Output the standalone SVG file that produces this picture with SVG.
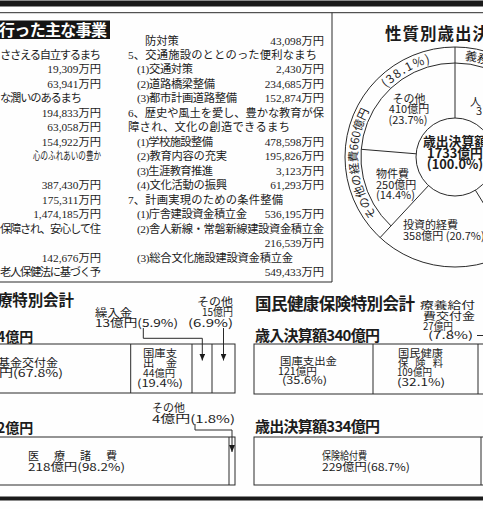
<svg xmlns="http://www.w3.org/2000/svg" width="483" height="509" viewBox="0 0 483 509">
<style>
.t{font-family:"Noto Sans CJK JP","Noto Sans",sans-serif;fill:#1c1c1c}
.s{font-size:11px}
.xs{font-size:10.3px}
.l{font-family:"Liberation Serif","Noto Sans CJK JP",serif;font-size:11.3px;fill:#1c1c1c}
.n{text-anchor:end}
.b{font-weight:bold}
.c{text-anchor:middle}
.ln{fill:none;stroke:#2a2a2a;stroke-width:1}
.bar{fill:#1a1a1a}
</style>
<defs>
<marker id="ah" viewBox="0 0 7 6" refX="7" refY="3" markerWidth="7" markerHeight="6" markerUnits="userSpaceOnUse" orient="auto">
<path d="M0,0 L7,3 L0,6 z" fill="#1a1a1a"/>
</marker>
<path id="ringL" d="M386.1,225.9 A97.5,97.5 0 0 1 451.6,59.6" fill="none"/>
<path id="ringR" d="M458.4,59.6 A97.5,97.5 0 0 1 529.7,94.3" fill="none"/>
</defs>
<rect x="0" y="0" width="483" height="509" fill="#fefefe"/>

<g id="frame">
<rect class="bar" x="0" y="0.5" width="483" height="6"/>
<line class="ln" x1="0" y1="12.7" x2="483" y2="12.7"/>
<path class="ln" d="M332,12.7 V282 H0"/>
<rect class="bar" x="0" y="496.5" width="483" height="4"/>
</g>

<g id="jigyo">
<rect x="-2" y="20.5" width="112" height="18.5" fill="#151515"/>
<text class="t b" x="-1" y="35.5" style="font-size:16px;fill:#fff" textLength="108">行った主な事業</text>
<text class="l" x="0" y="59.0" textLength="101">ささえる自立するまち</text>
<text class="l n" x="101" y="73.4">19,309万円</text>
<text class="l n" x="101" y="87.9">63,941万円</text>
<text class="l" x="0" y="102.4" textLength="82">な潤いのあるまち</text>
<text class="l n" x="101" y="116.9">194,833万円</text>
<text class="l n" x="101" y="131.3">63,058万円</text>
<text class="l n" x="101" y="145.8">154,922万円</text>
<text class="l" x="33" y="160.3" textLength="68" lengthAdjust="spacingAndGlyphs">心のふれあいの豊か</text>
<text class="l n" x="101" y="189.2">387,430万円</text>
<text class="l n" x="101" y="203.7">175,311万円</text>
<text class="l n" x="101" y="218.1">1,474,185万円</text>
<text class="l" x="0" y="232.6" textLength="101">保障され、安心して住</text>
<text class="l n" x="101" y="261.6">142,676万円</text>
<text class="l" x="0" y="276.0" textLength="101">老人保健法に基づく予</text>

<text class="l" x="145" y="44.5">防対策</text>
<text class="l n" x="324" y="44.5">43,098万円</text>
<text class="l" x="128" y="59.0" textLength="189">5、交通施設のととのった便利なまち</text>
<text class="l" x="137" y="73.4" textLength="56">(1)交通対策</text>
<text class="l n" x="324" y="73.4">2,430万円</text>
<text class="l" x="137" y="87.9" textLength="78">(2)道路橋梁整備</text>
<text class="l n" x="324" y="87.9">234,685万円</text>
<text class="l" x="137" y="102.4" textLength="100">(3)都市計画道路整備</text>
<text class="l n" x="324" y="102.4">152,874万円</text>
<text class="l" x="128" y="116.9" textLength="196">6、歴史や風土を愛し、豊かな教育が保</text>
<text class="l" x="128" y="131.3" textLength="162">障され、文化の創造できるまち</text>
<text class="l" x="137" y="145.8" textLength="76">(1)学校施設整備</text>
<text class="l n" x="324" y="145.8">478,598万円</text>
<text class="l" x="137" y="160.3" textLength="90">(2)教育内容の充実</text>
<text class="l n" x="324" y="160.3">195,826万円</text>
<text class="l" x="137" y="174.7" textLength="76">(3)生涯教育推進</text>
<text class="l n" x="324" y="174.7">3,123万円</text>
<text class="l" x="137" y="189.2" textLength="90">(4)文化活動の振興</text>
<text class="l n" x="324" y="189.2">61,293万円</text>
<text class="l" x="128" y="203.7" textLength="155">7、計画実現のための条件整備</text>
<text class="l" x="137" y="218.1" textLength="110">(1)庁舎建設資金積立金</text>
<text class="l n" x="324" y="218.1">536,195万円</text>
<text class="l" x="137" y="232.6" textLength="187">(2)舎人新線・常磐新線建設資金積立金</text>
<text class="l n" x="324" y="247.1">216,539万円</text>
<text class="l" x="137" y="261.6" textLength="156">(3)総合文化施設建設資金積立金</text>
<text class="l n" x="324" y="276.0">549,433万円</text>
</g>

<g id="pie">
<text class="t b" x="385" y="39.5" style="font-size:16.5px" textLength="104">性質別歳出決</text>
<circle class="ln" cx="455" cy="157" r="110"/>
<circle class="ln" cx="455" cy="157" r="39"/>
<path class="ln" d="M391.0,225.9 A94,94 0 0 1 455,63 A94,94 0 0 1 504.3,237.1"/>
<line class="ln" x1="455" y1="118" x2="455" y2="47"/>
<line class="ln" x1="416.1" y1="153.8" x2="361.3" y2="149.3"/>
<line class="ln" x1="428.5" y1="185.6" x2="380.1" y2="237.6"/>
<line class="ln" x1="475.4" y1="190.2" x2="512.6" y2="250.7"/>
<text class="t" style="font-size:11.5px"><textPath href="#ringL" startOffset="13.6">その他の経費660億円</textPath></text>
<text class="t" style="font-size:12px" letter-spacing="1.5"><textPath href="#ringL" startOffset="153">(38.1%)</textPath></text>
<text class="t" style="font-size:12px"><textPath href="#ringR" startOffset="6">義務</textPath></text>
<g id="p-sonota">
<text class="t s c" x="409" y="102.5">その他</text>
<text class="t s c" x="409" y="113">410億円</text>
<text class="t s c" x="408" y="123.5">(23.7%)</text>
</g>
<g id="p-bukken">
<text class="t s" x="376" y="178">物件費</text>
<text class="t s" x="376" y="188.5">250億円</text>
<text class="t s" x="376" y="199">(14.4%)</text>
</g>
<g id="p-toushi">
<text class="t s" x="403" y="229">投資的経費</text>
<text class="t s" x="403" y="239.5">358億円 (20.7%)</text>
</g>
<g id="p-jinken">
<text class="t s" x="470" y="105.5">人</text>
<text class="t s" x="476" y="115">3</text>
</g>
<g id="p-center">
<text class="t b c" x="455" y="146" style="font-size:12.8px">歳出決算額</text>
<text class="t b c" x="455" y="157.5" style="font-size:12.8px">1733億円</text>
<text class="t b c" x="455" y="169" style="font-size:12.8px">(100.0%)</text>
</g>
</g>

<g id="connectors">
<path class="ln" d="M143.3,328 V338.3 H202.3 V360.5" marker-end="url(#ah)"/>
<path class="ln" d="M223.5,328 V360.5" marker-end="url(#ah)"/>
<path class="ln" d="M195,424 V430 H232 V452" marker-end="url(#ah)"/>
<line class="ln" x1="477" y1="335.5" x2="483" y2="335.5"/>
</g>

<g id="rouken">
<text class="t b" x="-3" y="306" style="font-size:15.5px" textLength="77">療特別会計</text>
<text class="t b" x="-3" y="342" style="font-size:14px">4億円</text>
<text class="t s" x="95" y="316.5" textLength="37" lengthAdjust="spacingAndGlyphs">繰入金</text>
<text class="t s" x="95" y="326.5" textLength="83" lengthAdjust="spacingAndGlyphs">13億円(5.9%)</text>
<text class="t s" x="197" y="306" textLength="36" lengthAdjust="spacingAndGlyphs">その他</text>
<text class="t s" x="202" y="316" textLength="31" lengthAdjust="spacingAndGlyphs">15億円</text>
<text class="t s" x="188" y="326.5" textLength="45" lengthAdjust="spacingAndGlyphs">(6.9%)</text>
<g id="rouken-in">
<rect class="ln" x="-5" y="344" width="240" height="49"/>
<line class="ln" x1="130.7" y1="344" x2="130.7" y2="393"/>
<line class="ln" x1="192" y1="344" x2="192" y2="393"/>
<line class="ln" x1="212" y1="344" x2="212" y2="393"/>
<text class="t s" x="-2" y="366.5" textLength="60" lengthAdjust="spacingAndGlyphs">基金交付金</text>
<text class="t s" x="-1" y="377" textLength="64" lengthAdjust="spacingAndGlyphs">円(67.8%)</text>
<text class="t xs" x="143" y="357" textLength="34" lengthAdjust="spacingAndGlyphs">国庫支</text>
<text class="t xs" x="143" y="366.5" textLength="34" lengthAdjust="spacingAndGlyphs">出　金</text>
<text class="t xs" x="143" y="376.5" textLength="32" lengthAdjust="spacingAndGlyphs">44億円</text>
<text class="t xs" x="137" y="387" textLength="46" lengthAdjust="spacingAndGlyphs">(19.4%)</text>
</g>
<g id="rouken-out">
<text class="t b" x="-3" y="433" style="font-size:14px">2億円</text>
<text class="t s" x="152" y="411.5">その他</text>
<text class="t s" x="152" y="422.5" textLength="83" lengthAdjust="spacingAndGlyphs">4億円(1.8%)</text>
<rect class="ln" x="-5" y="437" width="240" height="48"/>
<line class="ln" x1="229" y1="437" x2="229" y2="485"/>
<text class="t s" x="28" y="460" textLength="89">医　療　諸　費</text>
<text class="t s" x="28" y="471" textLength="97" lengthAdjust="spacingAndGlyphs">218億円(98.2%)</text>
</g>
</g>

<g id="kokuho">
<text class="t b" x="255" y="310" style="font-size:16.5px" textLength="160">国民健康保険特別会計</text>
<text class="t xs" x="420" y="309" textLength="55" lengthAdjust="spacingAndGlyphs">療養給付</text>
<text class="t xs" x="423" y="319.5" textLength="52" lengthAdjust="spacingAndGlyphs">費交付金</text>
<text class="t xs" x="423" y="329.5" textLength="30" lengthAdjust="spacingAndGlyphs">27億円</text>
<text class="t xs" x="428" y="339" textLength="45" lengthAdjust="spacingAndGlyphs">(7.8%)</text>
<g id="kokuho-in">
<text class="t b" x="255" y="341" style="font-size:15px" textLength="125">歳入決算額340億円</text>
<rect class="ln" x="254" y="344" width="240" height="50"/>
<line class="ln" x1="373" y1="344" x2="373" y2="394"/>
<line class="ln" x1="478" y1="344" x2="478" y2="394"/>
<text class="t xs" x="280" y="365" textLength="57" lengthAdjust="spacingAndGlyphs">国庫支出金</text>
<text class="t xs" x="278" y="374.5" textLength="39" lengthAdjust="spacingAndGlyphs">121億円</text>
<text class="t xs" x="282" y="384" textLength="45" lengthAdjust="spacingAndGlyphs">(35.6%)</text>
<text class="t xs" x="398" y="357" textLength="45" lengthAdjust="spacingAndGlyphs">国民健康</text>
<text class="t xs" x="398" y="366.5" textLength="45">保　険　料</text>
<text class="t xs" x="397" y="376" textLength="35" lengthAdjust="spacingAndGlyphs">109億円</text>
<text class="t xs" x="397" y="385.5" textLength="48" lengthAdjust="spacingAndGlyphs">(32.1%)</text>
</g>
<g id="kokuho-out">
<text class="t b" x="255" y="432" style="font-size:15px" textLength="125">歳出決算額334億円</text>
<rect class="ln" x="254" y="437" width="240" height="48"/>
<line class="ln" x1="481" y1="437" x2="481" y2="485"/>
<text class="t s" x="322" y="460" textLength="45" lengthAdjust="spacingAndGlyphs">保険給付費</text>
<text class="t s" x="322" y="471" textLength="88" lengthAdjust="spacingAndGlyphs">229億円(68.7%)</text>
</g>
</g>
</svg>
